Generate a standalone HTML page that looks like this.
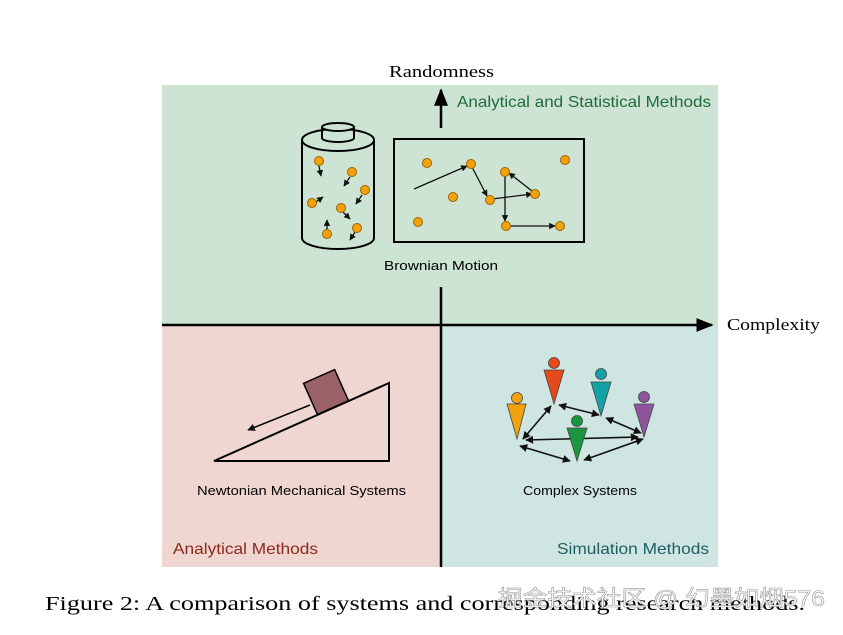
<!DOCTYPE html>
<html><head><meta charset="utf-8"><style>
body{margin:0;background:#fff;width:843px;height:630px;overflow:hidden}
svg text{font-family:"Liberation Sans",sans-serif}
</style></head><body>
<svg width="843" height="630" viewBox="0 0 843 630">
<defs><marker id="a" viewBox="0 0 10 10" refX="9" refY="5" markerWidth="5" markerHeight="5" orient="auto-start-reverse"><path d="M0,0L10,5L0,10z" fill="#111"/></marker>
<marker id="b" viewBox="0 0 10 10" refX="9" refY="5" markerWidth="7" markerHeight="7" orient="auto"><path d="M0,1L10,5L0,9z" fill="#000"/></marker></defs>
<rect x="162" y="85" width="556" height="240" fill="#cde3d4"/>
<rect x="162" y="325" width="279" height="242" fill="#f0d6d0"/>
<rect x="441" y="325" width="277" height="242" fill="#cfe5e1"/>
<line x1="162" y1="325" x2="712" y2="325" stroke="#000" stroke-width="2.5" marker-end="url(#b)"/>
<line x1="441" y1="567" x2="441" y2="287" stroke="#000" stroke-width="2.5"/>
<line x1="441" y1="128" x2="441" y2="90" stroke="#000" stroke-width="2.5" marker-end="url(#b)"/>
<text x="389" y="77" font-size="17" textLength="105" lengthAdjust="spacingAndGlyphs" style="font-family:'Liberation Serif',serif">Randomness</text>
<text x="727" y="330" font-size="17" textLength="93" lengthAdjust="spacingAndGlyphs" style="font-family:'Liberation Serif',serif">Complexity</text>
<text x="457" y="107" font-size="16" fill="#1f6b3a" textLength="254" lengthAdjust="spacingAndGlyphs">Analytical and Statistical Methods</text>
<text x="173" y="554" font-size="16" fill="#8a2a1e" textLength="145" lengthAdjust="spacingAndGlyphs">Analytical Methods</text>
<text x="557" y="554" font-size="16" fill="#1d5e63" textLength="152" lengthAdjust="spacingAndGlyphs">Simulation Methods</text>
<text x="384" y="270" font-size="13" textLength="114" lengthAdjust="spacingAndGlyphs">Brownian Motion</text>
<text x="197" y="495" font-size="13" textLength="209" lengthAdjust="spacingAndGlyphs">Newtonian Mechanical Systems</text>
<text x="523" y="495" font-size="13" textLength="114" lengthAdjust="spacingAndGlyphs">Complex Systems</text>
<text x="45" y="610" font-size="20" textLength="760" lengthAdjust="spacingAndGlyphs" style="font-family:'Liberation Serif',serif">Figure 2: A comparison of systems and corresponding research methods.</text>
<!-- cylinder -->
<g fill="none" stroke="#000" stroke-width="2">
<path d="M302,140 L302,238 A36,11 0 0 0 374,238 L374,140"/>
<ellipse cx="338" cy="140" rx="36" ry="11" fill="#cde3d4"/>
<path d="M322,127 L322,138 A16,4 0 0 0 354,138 L354,127"/>
<ellipse cx="338" cy="127" rx="16" ry="4" fill="#cde3d4"/>
<rect x="394" y="139" width="190" height="103"/>
</g>
<g stroke="#111" stroke-width="1.3" marker-end="url(#a)">
<line x1="319" y1="166" x2="321" y2="176"/><line x1="350" y1="177" x2="344" y2="186"/>
<line x1="362" y1="195" x2="356" y2="204"/><line x1="316" y1="202" x2="323" y2="197"/>
<line x1="343" y1="212" x2="350" y2="219"/><line x1="327" y1="230" x2="327" y2="220"/>
<line x1="355" y1="232" x2="350" y2="240"/>
<line x1="414" y1="189" x2="467" y2="166"/><line x1="472" y1="167" x2="487" y2="196"/>
<line x1="492" y1="199" x2="532" y2="194"/><line x1="532" y1="191" x2="509" y2="173"/>
<line x1="505" y1="175" x2="505" y2="221"/><line x1="508" y1="226" x2="555" y2="226"/>
</g>
<g fill="#f2a20c" stroke="#9a6400" stroke-width="1">
<circle cx="319" cy="161" r="4.5"/><circle cx="352" cy="172" r="4.5"/><circle cx="365" cy="190" r="4.5"/>
<circle cx="312" cy="203" r="4.5"/><circle cx="341" cy="208" r="4.5"/><circle cx="357" cy="228" r="4.5"/><circle cx="327" cy="234" r="4.5"/>
<circle cx="427" cy="163" r="4.5"/><circle cx="471" cy="164" r="4.5"/><circle cx="565" cy="160" r="4.5"/>
<circle cx="505" cy="172" r="4.5"/><circle cx="453" cy="197" r="4.5"/><circle cx="490" cy="200" r="4.5"/>
<circle cx="535" cy="194" r="4.5"/><circle cx="418" cy="222" r="4.5"/><circle cx="506" cy="226" r="4.5"/><circle cx="560" cy="226" r="4.5"/>
</g>
<!-- incline -->
<path d="M214,461 L389,461 L389,383 Z" fill="none" stroke="#000" stroke-width="2"/>
<g transform="rotate(-24 326 392)"><rect x="309" y="375" width="34" height="34" fill="#9a6266" stroke="#000" stroke-width="1.5"/></g>
<line x1="310" y1="405" x2="248" y2="430" stroke="#000" stroke-width="1.5" marker-end="url(#a)"/>
<!-- people -->
<g stroke="#111" stroke-width="1.6" marker-start="url(#a)" marker-end="url(#a)">
<line x1="523" y1="439" x2="551" y2="406"/><line x1="559" y1="405" x2="599" y2="415"/>
<line x1="606" y1="418" x2="641" y2="433"/><line x1="526" y1="440" x2="638" y2="437"/>
<line x1="520" y1="446" x2="570" y2="461"/><line x1="584" y1="460" x2="643" y2="439"/>
</g>
<g stroke="#444" stroke-width="0.8">
<circle cx="517" cy="398" r="5.5" fill="#f2a20c"/><path d="M507,404 L526,404 L517,439 Z" fill="#f2a20c"/>
<circle cx="554" cy="363" r="5.5" fill="#e64a1a"/><path d="M544,370 L564,370 L554,404 Z" fill="#e64a1a"/>
<circle cx="601" cy="374" r="5.5" fill="#13a3a6"/><path d="M591,382 L611,382 L601,416 Z" fill="#13a3a6"/>
<circle cx="644" cy="397" r="5.5" fill="#8e559e"/><path d="M634,404 L654,404 L644,437 Z" fill="#8e559e"/>
<circle cx="577" cy="421" r="5.5" fill="#1a9640"/><path d="M567,428 L587,428 L577,461 Z" fill="#1a9640"/>
</g>
<text x="498" y="606" font-size="22" fill="#fff" stroke="#999" stroke-width="0.6" textLength="327" lengthAdjust="spacingAndGlyphs" style="font-family:'Liberation Sans','Noto Sans CJK SC',sans-serif">掘金技术社区 @ 幻墨如烟576</text>
</svg>
</body></html>
